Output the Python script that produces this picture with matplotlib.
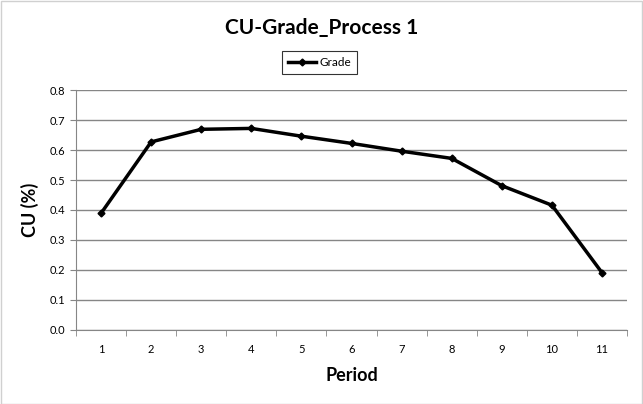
import matplotlib.pyplot as plt
from matplotlib import ticker

periods = [1, 2, 3, 4, 5, 6, 7, 8, 9, 10, 11]
grade = [0.389, 0.627, 0.669, 0.672, 0.646, 0.622, 0.596, 0.572, 0.481, 0.416, 0.191]

plt.rcParams["font.family"] = ["Lato", "DejaVu Sans"]

fig = plt.figure(figsize=(6.43, 4.04), dpi=100)
ax = fig.add_axes([0.1182, 0.1832, 0.857, 0.594])

ax.plot(periods, grade, color="black", lw=2.5, marker="D", ms=3.5, label="Grade")

ax.set_xlim(0.5, 11.5)
ax.set_ylim(0, 0.8)
ax.yaxis.set_major_locator(ticker.MultipleLocator(0.1))
ax.yaxis.set_major_formatter(ticker.FormatStrFormatter("%.1f"))
ax.set_xticks(periods)
ax.set_xticks([p + 0.5 for p in range(0, 12)], minor=True)
ax.tick_params(axis="x", which="major", length=0, labelsize=8, pad=10)
ax.tick_params(axis="x", which="minor", length=4, color="#868686", direction="out")
ax.tick_params(axis="y", length=4, color="#868686", labelsize=8)
ax.grid(axis="y", color="#868686", lw=1)
ax.set_axisbelow(True)

for side in ["top", "right"]:
    ax.spines[side].set_visible(False)
for side in ["left", "bottom"]:
    ax.spines[side].set_color("#868686")

ax.set_xlabel("Period", fontsize=13, fontweight="bold", labelpad=9)
ax.set_ylabel("CU (%)", fontsize=13, fontweight="bold", labelpad=8)
fig.suptitle("CU-Grade_Process 1", fontsize=15, fontweight="bold", y=0.955)

leg = fig.legend(loc="center", bbox_to_anchor=(0.497, 0.845), fontsize=8.5,
                 frameon=True, fancybox=False, handlelength=2.3, handletextpad=0.3,
                 borderpad=0.5)
leg.get_frame().set_edgecolor("black")
leg.get_frame().set_linewidth(0.8)

fig.patches.append(plt.Rectangle((0.001, 0.001), 0.997, 0.997, transform=fig.transFigure,
                                 fill=False, edgecolor="#d0d0d0", lw=1))

fig.savefig("out.png", dpi=100)
